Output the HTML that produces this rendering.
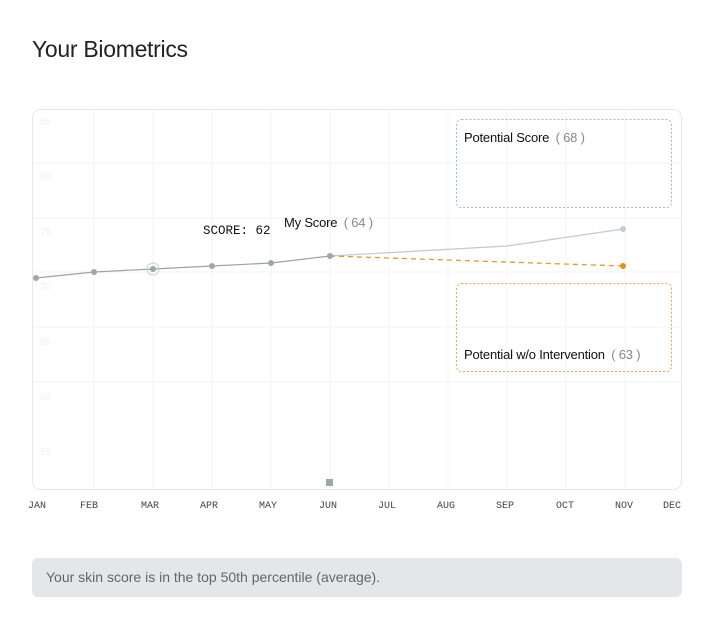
<!DOCTYPE html>
<html><head><style>
body{margin:0;background:#fff;width:715px;height:631px;overflow:hidden;font-family:"Liberation Sans",sans-serif;}
h1{position:absolute;left:32px;top:36px;margin:0;font-size:23px;font-weight:400;color:#222;letter-spacing:-0.3px}
.foot{position:absolute;left:32px;top:558px;width:650px;height:39px;background:#e3e7e7;border-radius:6px;font-size:14px;color:#5f6868;line-height:39px;padding-left:14px;box-sizing:border-box}
</style></head><body>
<h1>Your Biometrics</h1>
<svg width="715" height="631" style="position:absolute;left:0;top:0">
<rect x="32.5" y="109.5" width="649" height="380" rx="8" fill="none" stroke="#e6e8e8"/>
<g stroke="#f2f3f3">
<line x1="33" x2="681" y1="163" y2="163"/><line x1="33" x2="681" y1="218" y2="218"/><line x1="33" x2="681" y1="272" y2="272"/><line x1="33" x2="681" y1="327" y2="327"/><line x1="33" x2="681" y1="382" y2="382"/>
<line x1="94" x2="94" y1="110" y2="489"/><line x1="153" x2="153" y1="110" y2="489"/><line x1="212" x2="212" y1="110" y2="489"/><line x1="271" x2="271" y1="110" y2="489"/><line x1="330" x2="330" y1="110" y2="489"/><line x1="389" x2="389" y1="110" y2="489"/><line x1="448" x2="448" y1="110" y2="489"/><line x1="507" x2="507" y1="110" y2="489"/><line x1="566" x2="566" y1="110" y2="489"/><line x1="625" x2="625" y1="110" y2="489"/>
</g>
<g font-size="10" fill="#eef0f0">
<text x="40" y="125">85</text><text x="40" y="180">80</text><text x="40" y="235">75</text><text x="40" y="290">70</text><text x="40" y="345">65</text><text x="40" y="400">60</text><text x="40" y="455">55</text>
</g>
<rect x="456.5" y="119.5" width="215" height="88" rx="5" fill="none" stroke="#a9b7b3" stroke-dasharray="2,2"/>
<rect x="456.5" y="283.5" width="215" height="88" rx="5" fill="none" stroke="#e8a63c" stroke-dasharray="2,2"/>
<text x="464" y="142" font-size="13" fill="#111" letter-spacing="-0.2">Potential Score <tspan fill="#888" dx="3">( 68 )</tspan></text>
<text x="464" y="359" font-size="13" fill="#111" letter-spacing="-0.2">Potential w/o Intervention <tspan fill="#888" dx="3">( 63 )</tspan></text>
<polyline points="330,256 507,246 623,229" fill="none" stroke="#bfccc8" stroke-width="1.2"/>
<line x1="330" y1="256" x2="623" y2="266" stroke="#e39a2c" stroke-width="1.3" stroke-dasharray="5,4"/>
<polyline points="36,278 94,272 153,269 212,266 271,263 330,256" fill="none" stroke="#9ba5a5" stroke-width="1.2"/>
<g fill="#9ea7a8">
<circle cx="36" cy="278" r="3"/><circle cx="94" cy="272" r="3"/><circle cx="153" cy="269" r="3"/><circle cx="212" cy="266" r="3"/><circle cx="271" cy="263" r="3"/><circle cx="330" cy="256" r="3"/>
</g>
<circle cx="153" cy="269" r="6" fill="none" stroke="#c9cfcf"/>
<circle cx="623" cy="229" r="3" fill="#bfd0cb"/>
<circle cx="623" cy="266" r="3" fill="#e38f1c"/>
<rect x="326" y="479" width="7" height="7" fill="#9aa8a8"/>
<text x="203" y="234" font-family="Liberation Mono,monospace" font-size="12.5" fill="#111">SCORE: 62</text>
<text x="284" y="227" font-size="13" fill="#111" letter-spacing="-0.2">My Score <tspan fill="#888" dx="3">( 64 )</tspan></text>
<g font-family="Liberation Mono,monospace" font-size="10" fill="#444" text-anchor="middle">
<text x="37" y="508">JAN</text><text x="89" y="508">FEB</text><text x="150" y="508">MAR</text><text x="209" y="508">APR</text><text x="268" y="508">MAY</text><text x="328" y="508">JUN</text><text x="387" y="508">JUL</text><text x="446" y="508">AUG</text><text x="505" y="508">SEP</text><text x="565" y="508">OCT</text><text x="624" y="508">NOV</text><text x="672" y="508">DEC</text>
</g>
</svg>
<div class="foot">Your skin score is in the top 50th percentile (average).</div>
</body></html>
